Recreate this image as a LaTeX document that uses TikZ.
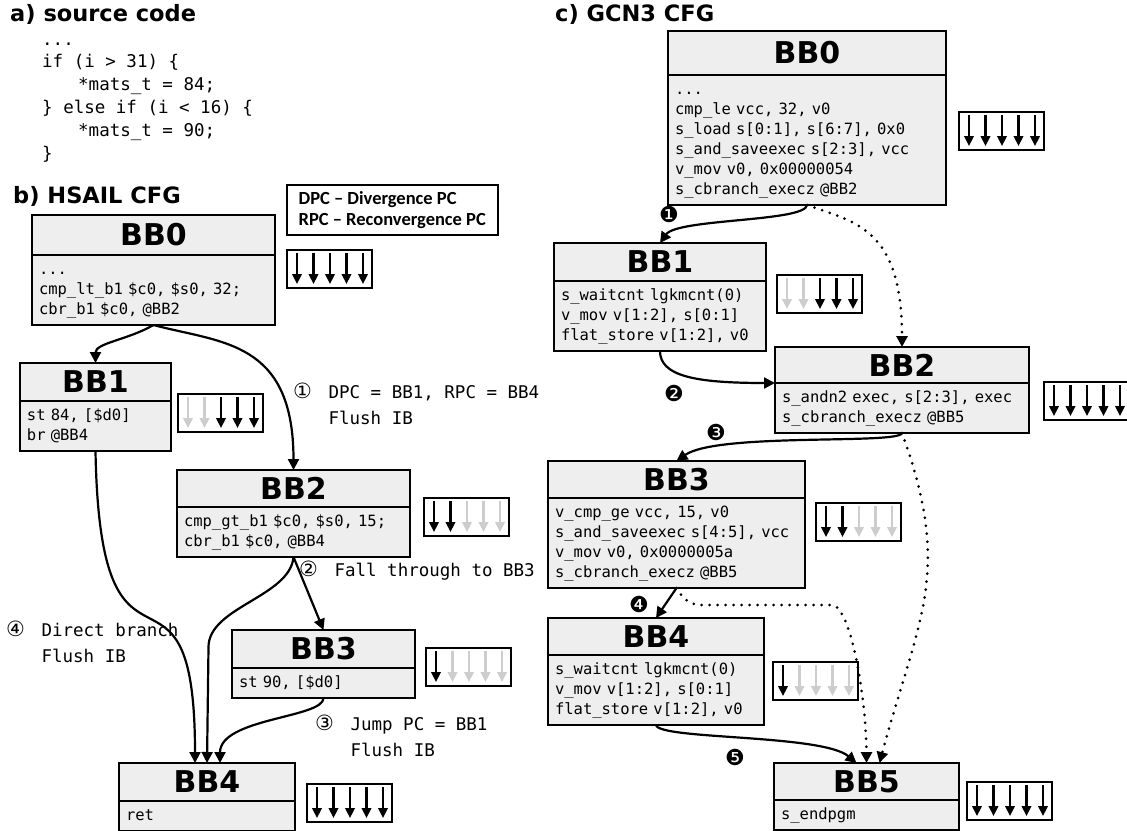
\documentclass[tikz,border=0pt]{standalone}
\usepackage{fontspec}
\setmainfont{DejaVu Sans}
\setmonofont{DejaVu Sans Mono}
\newfontfamily\legendfont{Carlito}
\newfontfamily\symfont{DejaVu Sans}
\usetikzlibrary{arrows.meta, positioning, calc}
\definecolor{boxfill}{RGB}{238,238,238}
\definecolor{lanegray}{RGB}{205,205,205}

% active-lane indicator: name, top-left corner, colour of each of the 5 lanes
\newcommand{\lanes}[3]{%
  \node[lanebox] (#1) at (#2) {};
  \foreach \col [count=\i] in {#3}
    \draw[lane, color=\col] ($(#1.north west)+(\i*16.5-6.5,-3)$) -- ++(0,-31);
}
\newcommand{\circnum}[1]{{\symfont\fontsize{21}{21}\selectfont #1}\hspace{6pt}}

\begin{document}
\begin{tikzpicture}[
    x=1pt, y=1pt,
    >={Triangle[length=11pt,width=11pt]},
    heading/.style={font=\bfseries\fontsize{22.5}{23}\selectfont, inner sep=0pt, anchor=base west},
    srcline/.style={font=\ttfamily\fontsize{17.5}{22}\selectfont, inner sep=0pt, anchor=base west},
    bbtitle/.style={draw, line width=1.5pt, fill=boxfill, minimum height=38, inner sep=0pt, outer sep=0pt, anchor=north west, font=\bfseries\fontsize{30}{30}\selectfont},
    bbcode/.style={draw, line width=1.5pt, fill=boxfill, align=left, inner xsep=7pt, inner ysep=5pt, outer sep=0pt, font=\ttfamily\fontsize{15.5}{20}\selectfont, execute at begin node=\strut, execute at end node=\strut},
    lanebox/.style={draw, line width=1.5pt, fill=white, minimum width=85, minimum height=38, inner sep=0pt, outer sep=0pt, anchor=north west},
    lane/.style={-{Triangle[length=10pt,width=9.5pt]}, line width=2.3pt},
    flow/.style={->, line width=2.2pt},
    dotflow/.style={->, line width=3pt, line cap=round, dash pattern=on 0pt off 8pt},
    anno/.style={font=\ttfamily\fontsize{17.5}{26}\selectfont, align=left, inner sep=0pt, anchor=west},
    numdot/.style={font=\symfont\fontsize{22}{22}\selectfont, inner sep=0pt},
    legendbox/.style={draw, line width=1.5pt, anchor=north west, align=left, minimum width=211, minimum height=50, inner xsep=6pt, inner ysep=4pt, font=\legendfont\bfseries\fontsize{18.5}{21}\selectfont}
]
    \fill[white, use as bounding box] (0,0) rectangle (1127,-830);

    % Headings
    \node[heading] (secA) at (10,-21) {a) source code};
    \node[heading] (secB) at (13,-203) {b) HSAIL CFG};
    \node[heading] (secC) at (555,-21) {c) GCN3 CFG};

    % Source code
    \node[srcline] (src1) at (42,-45) {...};
    \node[srcline] (src2) at (42,-67.8) {if (i > 31) \{};
    \node[srcline] (src3) at (78,-90.6) {*mats\_t = 84;};
    \node[srcline] (src4) at (42,-113.4) {\} else if (i < 16) \{};
    \node[srcline] (src5) at (78,-136.2) {*mats\_t = 90;};
    \node[srcline] (src6) at (42,-159) {\}};

    % Legend
    \node[legendbox] (legend) at (286,-184) {DPC – Divergence PC\\RPC – Reconvergence PC};

    % HSAIL blocks
    \node[bbtitle, minimum width=243, minimum height=40] (hbb0t) at (32,-215) {BB0};
    \node[bbcode, text width=229pt, below=0pt of hbb0t] (hbb0) {...\\cmp\_lt\_b1 \$c0, \$s0, 32;\\cbr\_b1 \$c0, @BB2};
    \lanes{hl0}{287,-250}{black,black,black,black,black}

    \node[bbtitle, minimum width=151] (hbb1t) at (20,-363) {BB1};
    \node[bbcode, text width=137pt, below=0pt of hbb1t] (hbb1) {st 84, [\$d0]\\br @BB4};
    \lanes{hl1}{178,-394}{lanegray,lanegray,black,black,black}

    \node[bbtitle, minimum width=233, minimum height=37] (hbb2t) at (177,-470) {BB2};
    \node[bbcode, text width=219pt, below=0pt of hbb2t] (hbb2) {cmp\_gt\_b1 \$c0, \$s0, 15;\\cbr\_b1 \$c0, @BB4};
    \lanes{hl2}{424,-498}{black,black,lanegray,lanegray,lanegray}

    \node[bbtitle, minimum width=183] (hbb3t) at (232,-630) {BB3};
    \node[bbcode, text width=169pt, below=0pt of hbb3t] (hbb3) {st 90, [\$d0]};
    \lanes{hl3}{426,-648}{black,lanegray,lanegray,lanegray,lanegray}

    \node[bbtitle, minimum width=176] (hbb4t) at (119,-763) {BB4};
    \node[bbcode, text width=162pt, below=0pt of hbb4t] (hbb4) {ret};
    \lanes{hl4}{307,-784}{black,black,black,black,black}

    % HSAIL annotations
    \node[anno] (ann1) at (293,-404) {\circnum{①} DPC = BB1, RPC = BB4\\\phantom{\circnum{①}} Flush IB};
    \node[anno] (ann2) at (299,-571) {\circnum{②} Fall through to BB3};
    \node[anno] (ann3) at (315,-736) {\circnum{③} Jump PC = BB1\\\phantom{\circnum{③}} Flush IB};
    \node[anno] (ann4) at (6,-642) {\circnum{④} Direct branch\\\phantom{\circnum{④}} Flush IB};

    % HSAIL edges
    \draw[flow] (hbb0.south) to[out=-150, in=90, out distance=30, in distance=20] (hbb1t.north);
    \draw[flow] (hbb0.south) to[out=-15, in=90, out distance=70, in distance=130] (hbb2t.north);
    \draw[flow] (hbb1.south) to[out=-89, in=90, out distance=270, in distance=240] ($(hbb4t.north)+(-12,0)$);
    \draw[flow] (hbb2.south) to[out=-95, in=90, out distance=40, in distance=40] ++(-85,-90) -- (hbb4t.north);
    \draw[flow] (hbb2.south) -- (hbb3t.north);
    \draw[flow] (hbb3.south) to[out=-90, in=90, out distance=20, in distance=45] ($(hbb4t.north)+(13,0)$);

    % GCN3 blocks
    \node[bbtitle, minimum width=278, minimum height=44] (gbb0t) at (668,-31) {BB0};
    \node[bbcode, text width=264pt, below=0pt of gbb0t] (gbb0) {...\\cmp\_le vcc, 32, v0\\s\_load s[0:1], s[6:7], 0x0\\s\_and\_saveexec s[2:3], vcc\\v\_mov v0, 0x00000054\\s\_cbranch\_execz @BB2};
    \lanes{gl0}{959,-112}{black,black,black,black,black}

    \node[bbtitle, minimum width=212] (gbb1t) at (554,-243) {BB1};
    \node[bbcode, text width=198pt, below=0pt of gbb1t] (gbb1) {s\_waitcnt lgkmcnt(0)\\v\_mov v[1:2], s[0:1]\\flat\_store v[1:2], v0};
    \lanes{gl1}{777,-275}{lanegray,lanegray,black,black,black}

    \node[bbtitle, minimum width=254, minimum height=36] (gbb2t) at (775,-347) {BB2};
    \node[bbcode, text width=240pt, below=0pt of gbb2t] (gbb2) {s\_andn2 exec, s[2:3], exec\\s\_cbranch\_execz @BB5};
    \lanes{gl2}{1044,-382}{black,black,black,black,black}

    \node[bbtitle, minimum width=257, minimum height=37] (gbb3t) at (548,-461) {BB3};
    \node[bbcode, text width=243pt, below=0pt of gbb3t] (gbb3) {v\_cmp\_ge vcc, 15, v0\\s\_and\_saveexec s[4:5], vcc\\v\_mov v0, 0x0000005a\\s\_cbranch\_execz @BB5};
    \lanes{gl3}{816,-503}{black,black,lanegray,lanegray,lanegray}

    \node[bbtitle, minimum width=216, minimum height=37] (gbb4t) at (548,-618) {BB4};
    \node[bbcode, text width=202pt, below=0pt of gbb4t] (gbb4) {s\_waitcnt lgkmcnt(0)\\v\_mov v[1:2], s[0:1]\\flat\_store v[1:2], v0};
    \lanes{gl4}{773,-662}{black,lanegray,lanegray,lanegray,lanegray}

    \node[bbtitle, minimum width=185, minimum height=37] (gbb5t) at (774,-763) {BB5};
    \node[bbcode, text width=171pt, below=0pt of gbb5t] (gbb5) {s\_endpgm};
    \lanes{gl5}{967,-782}{black,black,black,black,black}

    % GCN3 step numbers
    \node[numdot] (n1) at (669,-214) {❶};
    \node[numdot] (n2) at (674,-393) {❷};
    \node[numdot] (n3) at (716,-432) {❸};
    \node[numdot] (n4) at (639,-604) {❹};
    \node[numdot] (n5) at (735,-757) {❺};

    % GCN3 edges
    \draw[flow] (gbb0.south) to[out=-95, in=55, out distance=17, in distance=30] (gbb1t.north);
    \draw[dotflow] (gbb0.south) to[out=-20, in=90, out distance=50, in distance=120] (gbb2t.north);
    \draw[flow] (gbb1.south) to[out=-90, in=180, out distance=25, in distance=80] (gbb2t.south west);
    \draw[flow] (gbb2.south) to[out=-100, in=35, out distance=12, in distance=50] (gbb3t.north);
    \draw[dotflow] (gbb2.south) to[out=-70, in=75, out distance=150, in distance=150] ($(gbb5t.north)+(13,0)$);
    \draw[flow] (gbb3.south) -- (gbb4t.north);
    \draw[dotflow] (gbb3.south) to[out=-60, in=180] ++(25,-17) -- ++(130,0) to[out=0, in=90, out distance=20, in distance=60] (gbb5t.north);
    \draw[flow] (gbb4.south) to[out=-80, in=140, out distance=15, in distance=45] ($(gbb5t.north)+(-10,0)$);
\end{tikzpicture}
\end{document}
